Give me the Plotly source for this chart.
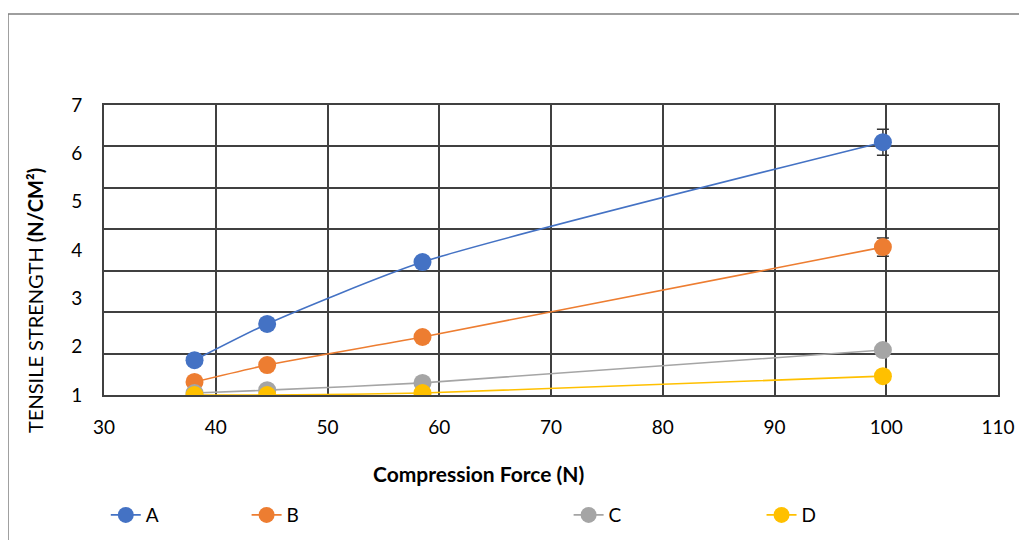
import plotly.graph_objects as go

# Data
force = [38.1, 44.6, 58.5, 99.7]
series_names = ["A", "B", "C", "D"]
A = [1.72, 2.47, 3.75, 6.23]
B = [1.27, 1.62, 2.20, 4.06]
C = [1.04, 1.10, 1.25, 1.93]
D = [1.00, 1.00, 1.04, 1.39]
A_err = [0, 0, 0, 0.27]
B_err = [0, 0, 0, 0.19]
C_err = [0, 0, 0, 0]
D_err = [0, 0, 0, 0]
x_ticks = [30, 40, 50, 60, 70, 80, 90, 100, 110]
y_ticks = [1, 2, 3, 4, 5, 6, 7]

colors = ["#4472C4", "#ED7D31", "#A5A5A5", "#FFC000"]
legend_x = [0.002, 0.1595, 0.5197, 0.7355]
FONT = "Lato, 'Open Sans', sans-serif"

fig = go.Figure()
for i, (name, ys, err) in enumerate(zip(series_names, [A, B, C, D], [A_err, B_err, C_err, D_err])):
    fig.add_trace(go.Scatter(
        x=force, y=ys, name=name, mode="lines+markers",
        line=dict(color=colors[i], width=1.6, shape="spline", smoothing=0.6),
        marker=dict(color=colors[i], size=18),
        error_y=dict(type="data", array=err, visible=True, color="#333333",
                     thickness=1.5, width=6),
        legend="legend" if i == 0 else f"legend{i+1}",
    ))

# invisible trace to create the grid axis
fig.add_trace(go.Scatter(x=[30], y=[0], yaxis="y2", mode="markers",
                         marker=dict(opacity=0), showlegend=False, hoverinfo="skip"))

grid_col = "#404040"
fig.update_layout(
    width=1019, height=532,
    margin=dict(l=96, r=29, t=97, b=145, autoexpand=False),
    paper_bgcolor="white", plot_bgcolor="white",
    font=dict(family=FONT, size=19, color="#000000"),
    xaxis=dict(range=[30, 110], tickvals=x_ticks, showgrid=True, gridcolor=grid_col,
               gridwidth=1.5, showline=True, linecolor=grid_col, linewidth=2, mirror=True,
               zeroline=False, ticks="", ticklabelstandoff=14,
               tickfont=dict(size=19)),
    yaxis=dict(range=[1, 7], tickvals=y_ticks, showgrid=False, zeroline=False,
               showline=True, linecolor=grid_col, linewidth=2, mirror=True,
               ticks="", ticklabelstandoff=16, tickfont=dict(size=19)),
    yaxis2=dict(range=[0, 7], dtick=1, overlaying="y", showgrid=True, gridcolor=grid_col,
                gridwidth=1.5, showticklabels=False, zeroline=False, showline=False),
    showlegend=True,
)

for i, name in enumerate(series_names):
    key = "legend" if i == 0 else f"legend{i+1}"
    fig.update_layout(**{key: dict(x=legend_x[i], y=-0.414, xanchor="left", yanchor="middle",
                                   orientation="h", bgcolor="rgba(0,0,0,0)",
                                   font=dict(family=FONT, size=19))})

fig.add_annotation(text="TENSILE STRENGTH <b>(N/CM²)</b>", textangle=-90,
                   xref="paper", yref="paper", x=-0.077, y=0.325,
                   xanchor="center", yanchor="middle",
                   showarrow=False, font=dict(family=FONT, size=20))
fig.add_annotation(text="<b>Compression Force (N)</b>",
                   xref="paper", yref="paper", x=0.419, y=-0.269,
                   xanchor="center", yanchor="middle",
                   showarrow=False, font=dict(family=FONT, size=21))

fig.add_shape(type="rect", xref="paper", yref="paper",
              x0=-0.1074, y0=-0.6, x1=1.1, y1=1.3138,
              line=dict(color="#7f7f7f", width=1.5), layer="below")

fig.write_html("out.html")
